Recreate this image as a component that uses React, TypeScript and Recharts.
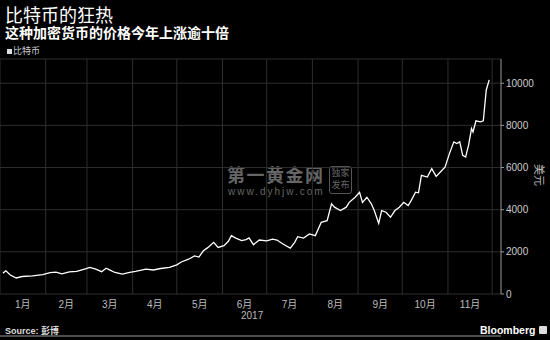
import React from 'react';
import { LineChart, Line, XAxis, YAxis, CartesianGrid } from 'recharts';

// Bitcoin close (USD)
const dates = [
  '01-03', '01-05', '01-08', '01-12', '01-16', '01-23', '01-30', '02-04', '02-08', '02-12',
  '02-17', '02-22', '02-28', '03-03', '03-07', '03-11', '03-14', '03-17', '03-20', '03-25',
  '03-30', '04-03', '04-10', '04-15', '04-20', '04-26', '05-01', '05-04', '05-09', '05-13',
  '05-16', '05-19', '05-22', '05-26', '05-29', '06-02', '06-05', '06-07', '06-10', '06-14',
  '06-17', '06-19', '06-22', '06-26', '07-01', '07-05', '07-08', '07-12', '07-17', '07-20',
  '07-22', '07-26', '07-30', '08-03', '08-07', '08-11', '08-14', '08-16', '08-20', '08-24',
  '08-26', '08-30', '09-02', '09-04', '09-07', '09-10', '09-12', '09-15', '09-17', '09-20',
  '09-23', '09-26', '09-29', '10-02', '10-05', '10-07', '10-10', '10-12', '10-14', '10-18',
  '10-21', '10-24', '10-28', '10-30', '11-02', '11-05', '11-07', '11-09', '11-11', '11-13',
  '11-15', '11-17', '11-18', '11-20', '11-23', '11-25', '11-27', '11-29',
];
const prices = [
  990, 1100, 900, 760, 830, 860, 920, 1010, 1040, 960,
  1050, 1070, 1190, 1260, 1180, 1060, 1220, 1120, 1020, 940,
  1030, 1070, 1180, 1140, 1210, 1260, 1380, 1520, 1650, 1810,
  1750, 2050, 2200, 2450, 2210, 2290, 2500, 2770, 2650, 2530,
  2580, 2660, 2340, 2560, 2520, 2600, 2560, 2370, 2180, 2450,
  2720, 2650, 2850, 2770, 3400, 3480, 4280, 4120, 3960, 4120,
  4350, 4590, 4830, 4350, 4590, 4280, 3960, 3350, 3960, 3880,
  3640, 3960, 4120, 4350, 4200, 4430, 4830, 4800, 5630, 5550,
  5950, 5580, 5870, 6020, 6660, 7220, 7140, 7220, 6580, 6500,
  7060, 7850, 7690, 8220, 8170, 8220, 9680, 10160,
];
const monthLabels = ['1月', '2月', '3月', '4月', '5月', '6月', '7月', '8月', '9月', '10月', '11月'];
const monthStarts = [0, 31, 59, 90, 120, 151, 181, 212, 243, 273, 304, 334];
const yTicks = [0, 2000, 4000, 6000, 8000, 10000];
const X_MAX = 340;

const dayOfYear = (md: string) => {
  const [m, d] = md.split('-').map(Number);
  return (Date.UTC(2017, m - 1, d) - Date.UTC(2017, 0, 1)) / 86400000;
};

const data = dates.map((d, i) => ({ day: dayOfYear(d), price: prices[i] }));
const monthMids = monthStarts.slice(0, -1).map((s, i) => (s + monthStarts[i + 1]) / 2);

// vertical grid at month boundaries, through the axis scale when available
const monthGrid = ({ xAxis, offset }: any) => {
  const s = xAxis && xAxis.scale;
  return monthStarts.map((d) =>
    typeof s === 'function' ? s(d) : offset.left + (d / X_MAX) * offset.width
  );
};

const FONT = "'Liberation Sans', 'Noto Sans CJK SC', sans-serif";
const CJK = "'Noto Sans CJK SC', sans-serif";

export default function App() {
  return (
    <div style={{ position: 'absolute', left: 0, top: 0, width: 550, height: 340, background: '#000', overflow: 'hidden', fontFamily: FONT }}>
      <div style={{ position: 'absolute', left: 5, top: 5, color: '#fff', fontSize: 18, lineHeight: '18px', fontFamily: CJK }}>比特币的狂热</div>
      <div style={{ position: 'absolute', left: 5, top: 25, color: '#fff', fontSize: 14, lineHeight: '14px', fontWeight: 700, fontFamily: CJK }}>这种加密货币的价格今年上涨逾十倍</div>
      <div style={{ position: 'absolute', left: 7, top: 45, color: '#ccc', fontSize: 9, lineHeight: '12px', fontFamily: CJK, display: 'flex', alignItems: 'center' }}>
        <span style={{ display: 'inline-block', width: 5, height: 5, background: '#ddd', marginRight: 1 }} />比特币
      </div>

      {/* watermark */}
      <div style={{ position: 'absolute', left: 227, top: 164, color: '#666', fontSize: 18, fontWeight: 700, letterSpacing: 1.5, fontFamily: CJK, lineHeight: '20px' }}>第一黄金网</div>
      <div style={{ position: 'absolute', left: 228, top: 186, color: '#666', fontSize: 10, letterSpacing: 2, lineHeight: '11px' }}>www.dyhjw.com</div>
      <div style={{ position: 'absolute', left: 329, top: 166, width: 21, height: 26, border: '1px solid #555', borderRadius: 3, color: '#666', fontSize: 9, lineHeight: '12px', textAlign: 'center', fontFamily: CJK }}>独家<br />发布</div>

      <LineChart width={550} height={340} data={data} margin={{ top: 59, right: 0, bottom: 0, left: 0 }}>
        <CartesianGrid xAxisId="m" stroke="#2e2e2e" strokeWidth={1} verticalCoordinatesGenerator={monthGrid} />
        <XAxis
          xAxisId="m"
          dataKey="day"
          type="number"
          domain={[0, X_MAX]}
          ticks={monthStarts}
          tick={false}
          tickSize={3}
          height={4}
          axisLine={{ stroke: '#999' }}
          tickLine={{ stroke: '#999' }}
        />
        <XAxis
          xAxisId="lbl"
          dataKey="day"
          type="number"
          domain={[0, X_MAX]}
          ticks={monthMids}
          tickFormatter={(v: number) => monthLabels[monthMids.indexOf(v)] ?? ''}
          axisLine={false}
          tickLine={false}
          tickSize={0}
          tickMargin={7}
          height={42}
          tick={{ fill: '#bbb', fontSize: 10, fontFamily: FONT }}
        />
        <YAxis
          orientation="right"
          domain={[0, 11150]}
          ticks={yTicks}
          width={49}
          tickSize={3}
          tickMargin={2}
          axisLine={{ stroke: '#999' }}
          tickLine={{ stroke: '#999' }}
          tick={{ fill: '#ccc', fontSize: 10, fontFamily: FONT }}
        />
        <Line
          xAxisId="m"
          type="linear"
          dataKey="price"
          stroke="#fff"
          strokeWidth={1.3}
          dot={false}
          isAnimationActive={false}
        />
      </LineChart>

      <div style={{ position: 'absolute', left: 241, top: 310, color: '#bbb', fontSize: 10, lineHeight: '12px' }}>2017</div>
      <div style={{ position: 'absolute', left: 528, top: 168, width: 24, color: '#bbb', fontSize: 11, lineHeight: '14px', textAlign: 'center', fontFamily: CJK, transform: 'rotate(90deg)', transformOrigin: 'center' }}>美元</div>
      <div style={{ position: 'absolute', left: 5, top: 325, color: '#ddd', fontSize: 9, fontWeight: 700, lineHeight: '12px' }}>Source: 彭博</div>
      <div style={{ position: 'absolute', left: 480, top: 323, color: '#fff', fontSize: 10.5, fontWeight: 700, lineHeight: '14px', display: 'flex', alignItems: 'center' }}>
        Bloomberg
        <span style={{ display: 'inline-block', width: 8, height: 8, background: '#ddd', borderRadius: 1, marginLeft: 4 }} />
      </div>
    </div>
  );
}
